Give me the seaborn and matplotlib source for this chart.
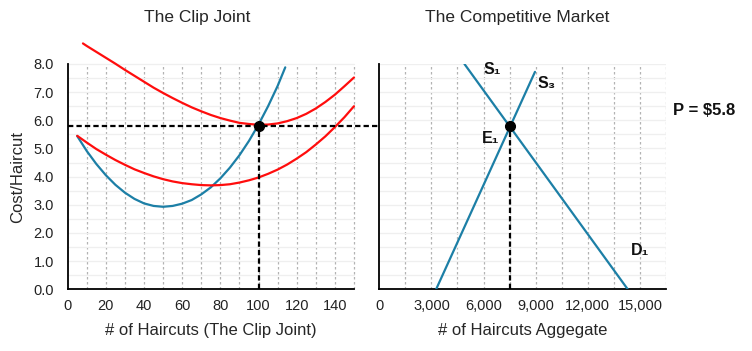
import numpy as np
import pandas as pd
import seaborn as sns
import matplotlib.pyplot as plt

# Clip Joint cost curves
mc_q = [5, 10, 15, 20, 25, 30, 35, 40, 45, 50, 55, 60, 65, 70, 75, 80, 85, 90, 95, 100, 105, 110, 114]
mc = [5.44, 4.91, 4.45, 4.05, 3.71, 3.43, 3.21, 3.05, 2.96, 2.93, 2.96, 3.04, 3.17, 3.37, 3.62,
      3.94, 4.32, 4.76, 5.27, 5.85, 6.5, 7.22, 7.88]
avc_q = [5, 10, 15, 20, 25, 30, 35, 40, 45, 50, 55, 60, 65, 70, 75, 80, 85, 90, 95, 100,
         105, 110, 115, 120, 125, 130, 135, 140, 145, 150]
avc = [5.45, 5.21, 4.98, 4.78, 4.59, 4.42, 4.26, 4.13, 4.01, 3.91, 3.83, 3.77, 3.73, 3.7, 3.69,
       3.7, 3.73, 3.79, 3.87, 3.97, 4.1, 4.25, 4.43, 4.64, 4.87, 5.14, 5.43, 5.76, 6.11, 6.5]
atc_q = [8, 10, 15, 20, 25, 30, 35, 40, 45, 50, 55, 60, 65, 70, 75, 80, 85, 90, 95, 100,
         105, 110, 115, 120, 125, 130, 135, 140, 145, 150]
atc = [8.73, 8.64, 8.43, 8.22, 8.01, 7.79, 7.58, 7.37, 7.16, 6.97, 6.79, 6.62, 6.46, 6.32, 6.19,
       6.08, 5.99, 5.91, 5.87, 5.84, 5.85, 5.89, 5.97, 6.08, 6.23, 6.42, 6.65, 6.91, 7.21, 7.52]

# market lines
demand_q = [4900, 14300]
demand_p = [8.0, 0.0]
supply_q = [3270, 8960]
supply_p = [0.0, 7.72]

price = 5.8
firm_q = 100
market_q = 7500

left_ticks = [0, 20, 40, 60, 80, 100, 120, 140]
right_ticks = [0, 3000, 6000, 9000, 12000, 15000]
right_ticklabels = ['0', '3,000', '6,000', '9,000', '12,000', '15,000']
y_ticks = [0, 1, 2, 3, 4, 5, 6, 7, 8]

sns.set_theme(style='white')
plt.rcParams['font.family'] = ['Liberation Sans', 'DejaVu Sans']

blue = '#1c7fa6'
red = '#ff0d0d'
dash = (0, (2.4, 1.4))

fig = plt.figure(figsize=(7.52, 3.51), dpi=100)
ax1 = fig.add_axes([0.090, 0.1758, 0.3807, 0.6419])
ax2 = fig.add_axes([0.5044, 0.1758, 0.3812, 0.6419])

for ax, xmax, step in [(ax1, 150, 10), (ax2, 16500, 1500)]:
    ax.set_xlim(0, xmax)
    ax.set_ylim(0, 8)
    for v in np.arange(step, xmax + 1, step):
        ax.axvline(v, color='#b3b3b3', lw=0.9, ls=(0, (2, 2)), zorder=0)
    for h in np.arange(0.5, 8.01, 0.5):
        ax.axhline(h, color='#efefef', lw=0.9, zorder=0)
    for s in ['top', 'right']:
        ax.spines[s].set_visible(False)
    for s in ['left', 'bottom']:
        ax.spines[s].set_color('black')
        ax.spines[s].set_linewidth(1.3)
    ax.tick_params(length=0, labelsize=10.5, colors='#222222')

# left panel
df_mc = pd.DataFrame({'q': mc_q, 'v': mc})
df_avc = pd.DataFrame({'q': avc_q, 'v': avc})
df_atc = pd.DataFrame({'q': atc_q, 'v': atc})
sns.lineplot(data=df_mc, x='q', y='v', ax=ax1, color=blue, lw=1.6, zorder=3)
sns.lineplot(data=df_avc, x='q', y='v', ax=ax1, color=red, lw=1.6, zorder=3)
sns.lineplot(data=df_atc, x='q', y='v', ax=ax1, color=red, lw=1.6, zorder=3)
for ln in ax1.lines:
    ln.set_clip_on(False)

ax1.set_xticks(left_ticks)
ax1.set_yticks(y_ticks)
ax1.set_yticklabels([f'{t:.1f}' for t in y_ticks])
ax1.tick_params(axis='y', pad=10)
ax1.tick_params(axis='x', pad=7)
ax1.set_xlabel('# of Haircuts (The Clip Joint)', fontsize=12)
ax1.set_ylabel('Cost/Haircut', fontsize=12)
ax1.xaxis.set_label_coords(0.5, -0.15)
ax1.yaxis.set_label_coords(-0.15, 0.5)

# price line running across both panels
b1 = ax1.get_position()
b2 = ax2.get_position()
span = (b2.x1 - b1.x0) / b1.width
ax1.axhline(price, xmin=0, xmax=span * 0.993, color='black', lw=1.6, ls=dash, clip_on=False, zorder=4)
ax1.plot([firm_q, firm_q], [0, price], color='black', lw=1.6, ls=dash, zorder=4)
ax1.plot([firm_q], [price], 'o', color='black', ms=7, zorder=5)

# right panel
df_d = pd.DataFrame({'q': demand_q, 'p': demand_p})
df_s = pd.DataFrame({'q': supply_q, 'p': supply_p})
sns.lineplot(data=df_d, x='q', y='p', ax=ax2, color=blue, lw=1.6, zorder=3)
sns.lineplot(data=df_s, x='q', y='p', ax=ax2, color=blue, lw=1.6, zorder=3)
ax2.plot([market_q, market_q], [0, price], color='black', lw=1.6, ls=dash, zorder=4)
ax2.plot([market_q], [price], 'o', color='black', ms=7, zorder=5)

ax2.set_xticks(right_ticks)
ax2.set_xticklabels(right_ticklabels)
ax2.set_yticks(y_ticks)
ax2.set_yticklabels([])
ax2.tick_params(axis='x', pad=7)
ax2.set_xlabel('# of Haircuts Aggegate', fontsize=12)
ax2.set_ylabel('')
ax2.xaxis.set_label_coords(0.5, -0.15)

lab = dict(fontsize=11.5, fontweight='bold', color='#111111', ha='center', va='center')
ax2.text(6480, 7.8, 'S₁', **lab)
ax2.text(9620, 7.3, 'S₃', **lab)
ax2.text(6430, 5.35, 'E₁', **lab)
ax2.text(14980, 1.36, 'D₁', **lab)
ax2.text(1.133, 0.793, 'P = $5.8', transform=ax2.transAxes, **dict(lab, fontsize=12))

fig.text(0.262, 0.949, 'The Clip Joint', fontsize=12.5, ha='center', va='center')
fig.text(0.688, 0.949, 'The Competitive Market', fontsize=12.5, ha='center', va='center')

fig.savefig('out.png', dpi=100)
